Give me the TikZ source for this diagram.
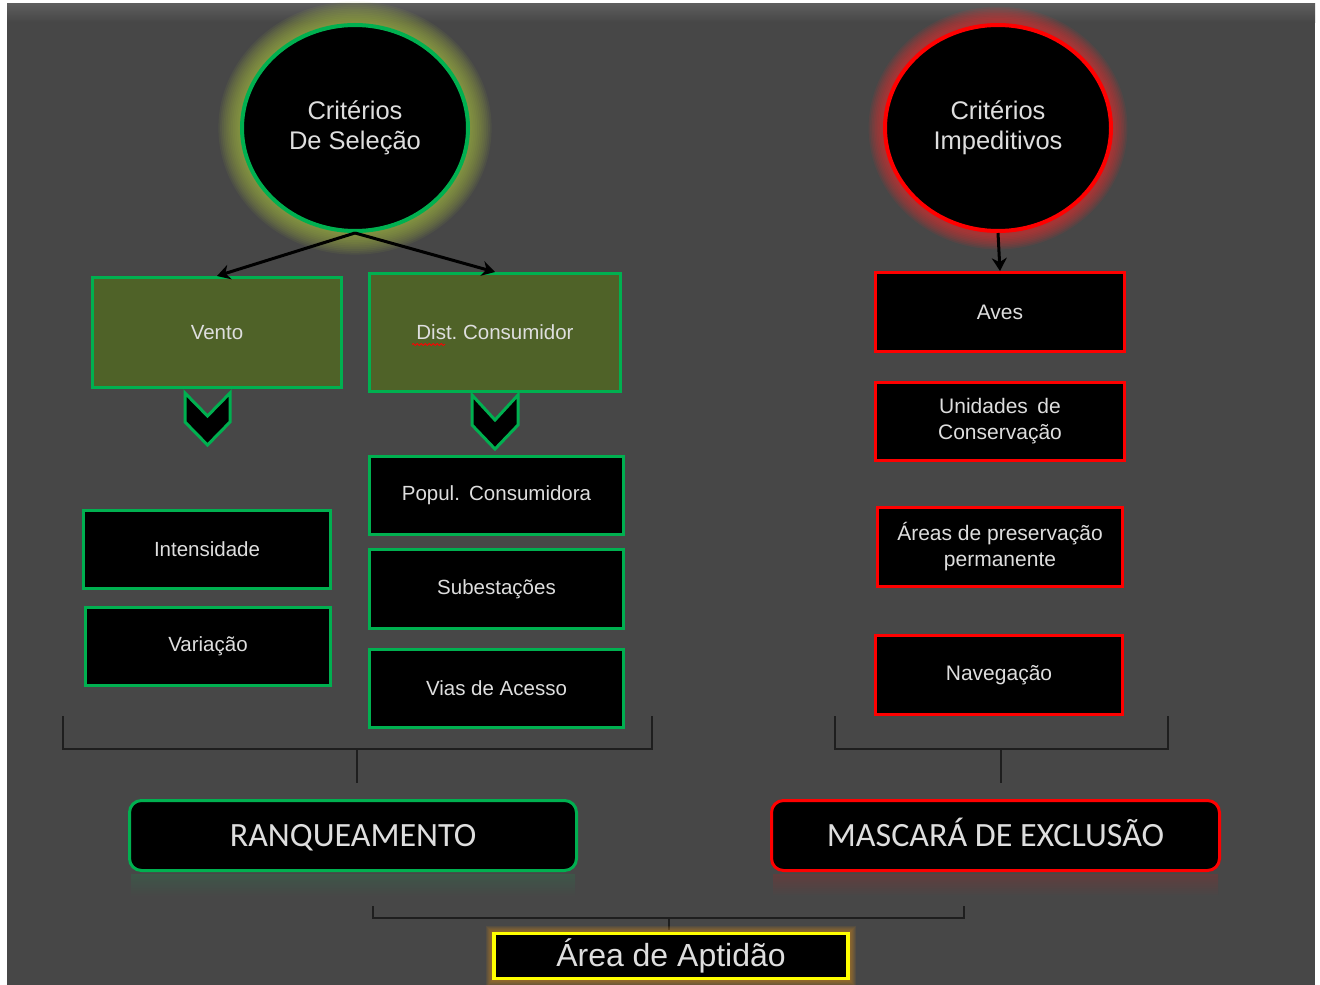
\documentclass[tikz,border=0pt]{standalone}
\usepackage{fontspec}
\setmainfont{Liberation Sans}
\newfontfamily\calib{Carlito}
\usetikzlibrary{shapes.geometric,arrows.meta,decorations.pathmorphing}
\definecolor{bg}{HTML}{474747}
\definecolor{bgtop}{HTML}{5E5E5E}
\definecolor{gborder}{HTML}{00B050}
\definecolor{olive}{HTML}{4F6228}
\definecolor{rborder}{HTML}{FF0000}
\definecolor{yborder}{HTML}{FFFF00}
\definecolor{txt}{HTML}{DEDEDE}
\definecolor{gglow}{HTML}{A8C040}
\definecolor{rglow}{HTML}{E03030}
\definecolor{oglow}{HTML}{C08020}
\definecolor{brk}{HTML}{1E1E1E}
\begin{document}
\begin{tikzpicture}[x=1pt,y=1pt,
  circ/.style={ellipse, line width=4pt, fill=black, text=txt, align=center, inner sep=0pt,
    minimum width=226pt, minimum height=206pt, font=\fontsize{25.5}{30}\selectfont},
  gbox/.style={draw=gborder, line width=3pt, fill=black, text=txt, align=center, inner sep=0pt,
    font=\fontsize{20.5}{26}\selectfont},
  rbox/.style={draw=rborder, line width=3pt, fill=black, text=txt, align=center, inner sep=0pt,
    font=\fontsize{21}{26}\selectfont},
  bigbox/.style={line width=3pt, fill=black, text=txt, rounded corners=12pt, inner sep=0pt,
    minimum height=70pt, text height=22pt, text depth=0pt, font=\calib\fontsize{34}{40}\selectfont},
  arr/.style={line width=3pt, black, -{Stealth[length=13pt,width=15pt]}},
  brack/.style={line width=2pt, brk},
  chev/.style={draw=gborder, line width=3pt, fill=black, line join=miter}
]
\useasboundingbox (0,0) rectangle (1320,-985);
% background
\fill[white] (0,0) rectangle (1320,-985);
\fill[bg] (7,-3) rectangle (1315,-985);
\shade[top color=bgtop, bottom color=bg] (7,-3) rectangle (1315,-22);

% glows
\foreach \i in {12,11,...,1}
  \fill[gglow, opacity=0.08] (355,-128) ellipse [x radius={115+1.8*\i}, y radius={105+1.8*\i}];
\foreach \i in {9,8,...,1}
  \fill[rglow, opacity=0.10] (998,-128) ellipse [x radius={115+1.6*\i}, y radius={107+1.6*\i}];

% circles
\node[circ, draw=gborder] (cs) at (355,-128) {Critérios\\De Seleção};
\node[circ, draw=rborder] (ci) at (998,-128) {Critérios\\Impeditivos};

% left column boxes
\node[gbox, fill=olive, minimum width=249pt, minimum height=110pt] (vento) at (217,-332.5) {Vento};
\node[gbox, fill=olive, minimum width=251pt, minimum height=118pt] (dist) at (495,-332.5) {Dist.\ Consumidor};
\draw[red, line width=0.8pt, decorate, decoration={snake, amplitude=1pt, segment length=4pt}]
  ([xshift=-83pt,yshift=-12pt]dist.center) -- ([xshift=-50pt,yshift=-12pt]dist.center);

\draw[arr] (cs.south) -- (vento.north);
\draw[arr] (cs.south) -- (dist.north);

% chevrons
\draw[chev] (185,-393) -- (207.5,-416) -- (230,-393) -- (230,-422) -- (207.5,-445) -- (185,-422) -- cycle;
\draw[chev] (472,-395) -- (495,-420) -- (518,-395) -- (518,-425) -- (495,-449) -- (472,-425) -- cycle;

\node[gbox, minimum width=247pt, minimum height=78pt] (inten) at (207,-549.5) {Intensidade};
\node[gbox, minimum width=245pt, minimum height=78pt] (varia) at (208,-646.5) {Variação};
\node[gbox, minimum width=254pt, minimum height=78pt] (popul) at (496.5,-495.5) {Popul.\hspace{0.45em}Consumidora};
\node[gbox, minimum width=254pt, minimum height=79pt] (subes) at (496.5,-589) {Subestações};
\node[gbox, minimum width=254pt, minimum height=78pt] (vias) at (496.5,-688.5) {Vias de Acesso};

% right column boxes
\node[rbox, minimum width=249pt, minimum height=79pt] (aves) at (1000,-312) {Aves};
\node[rbox, minimum width=249pt, minimum height=78pt] (unid) at (1000,-421.5) {Unidades\hspace{0.45em}de\\Conservação};
\node[rbox, minimum width=245pt, minimum height=79pt] (areas) at (1000,-547) {Áreas de preservação\\permanente};
\node[rbox, minimum width=247pt, minimum height=79pt] (naveg) at (999,-675) {Navegação};
\draw[arr] (ci.south) -- (aves.north);

% brackets
\coordinate (lb1) at (63,-716);  \coordinate (lb2) at (63,-749);
\coordinate (lb3) at (652,-749); \coordinate (lb4) at (652,-716);
\coordinate (ls1) at (357,-749); \coordinate (ls2) at (357,-783);
\draw[brack] (lb1) -- (lb2) -- (lb3) -- (lb4);
\draw[brack] (ls1) -- (ls2);
\coordinate (rb1) at (835,-716);  \coordinate (rb2) at (835,-749);
\coordinate (rb3) at (1168,-749); \coordinate (rb4) at (1168,-716);
\coordinate (rs1) at (1001,-749); \coordinate (rs2) at (1001,-783);
\draw[brack] (rb1) -- (rb2) -- (rb3) -- (rb4);
\draw[brack] (rs1) -- (rs2);

% reflections
\shade[top color=gborder!14!bg, bottom color=bg] (131,-874) rectangle (575,-896);
\shade[top color=rborder!14!bg, bottom color=bg] (773,-874) rectangle (1218,-896);

% big boxes
\node[bigbox, draw=gborder, minimum width=447pt] (ranq) at (353,-835.5) {RANQUEAMENTO};
\node[bigbox, draw=rborder, minimum width=448pt] (masc) at (995.5,-835.5) {MASCARÁ DE EXCLUSÃO};

% bottom bracket
\coordinate (bb1) at (373,-906); \coordinate (bb2) at (373,-918);
\coordinate (bb3) at (964,-918); \coordinate (bb4) at (964,-906);
\coordinate (bs1) at (669,-918); \coordinate (bs2) at (669,-930);
\draw[brack] (bb1) -- (bb2) -- (bb3) -- (bb4);
\draw[brack] (bs1) -- (bs2);

% final box with glow
\coordinate (aptc) at (671,-956);
\foreach \i in {8,7,...,1}
  \fill[oglow, opacity=0.13] ([shift={(-177-\i,22.5+\i)}]aptc) rectangle ([shift={(177+\i,-22.5-\i)}]aptc);
\node[draw=yborder, line width=3.5pt, fill=black, text=txt, inner sep=0pt,
  minimum width=354pt, minimum height=45pt, font=\fontsize{32}{36}\selectfont] (apt) at (aptc) {Área de Aptidão};
\end{tikzpicture}
\end{document}
